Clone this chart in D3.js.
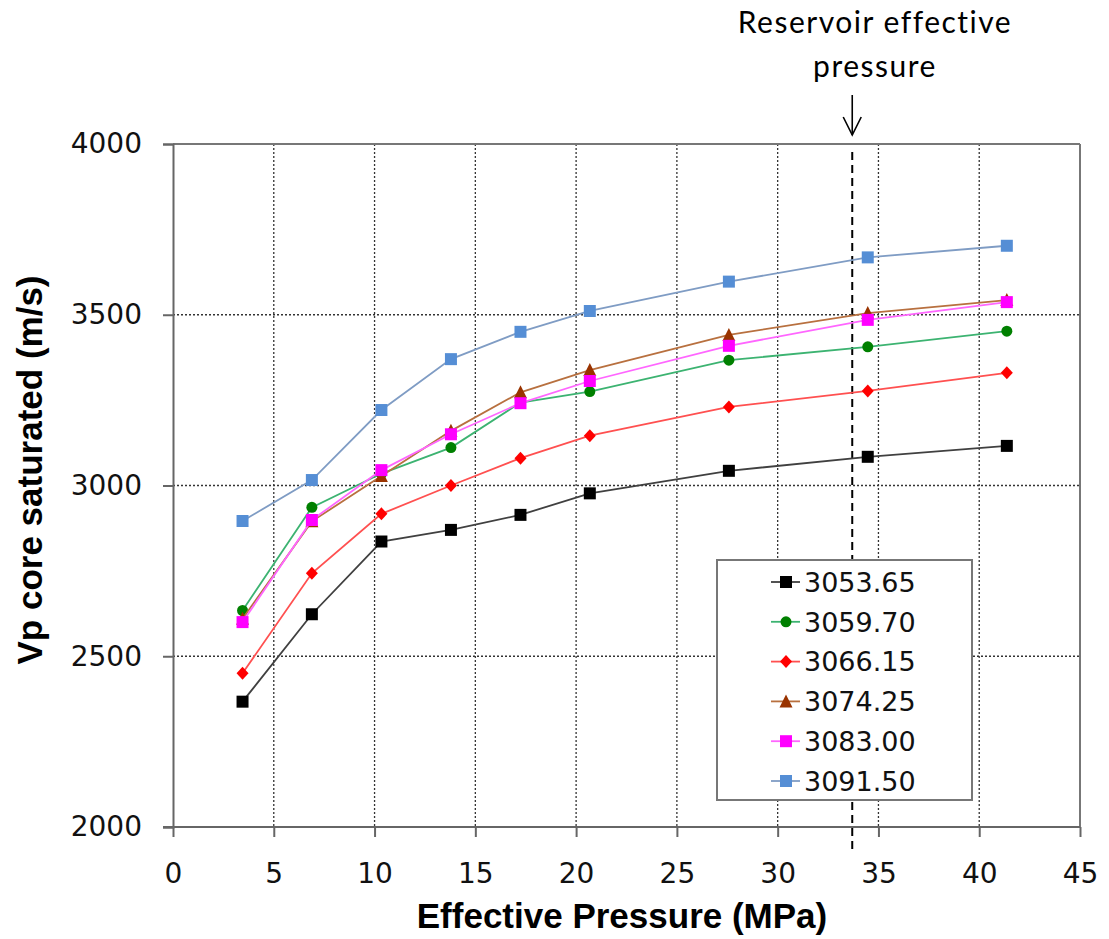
<!DOCTYPE html>
<html><head><meta charset="utf-8">
<script src="https://cdn.jsdelivr.net/npm/d3@7"></script>
<style>body{margin:0;background:#fff}</style>
</head><body>
<svg id="chart" width="1109" height="939"></svg>
<script>
const pressures = [3.45, 6.89, 10.34, 13.79, 17.24, 20.68, 27.58, 34.47, 41.37];
const s3053_65 = [2367, 2623, 2836, 2870, 2914, 2977, 3043, 3084, 3116];
const s3059_70 = [2634, 2936, 3035, 3111, 3243, 3275, 3367, 3406, 3452];
const s3066_15 = [2450, 2743, 2917, 3000, 3080, 3146, 3230, 3277, 3330];
const s3074_25 = [2610, 2895, 3028, 3160, 3273, 3338, 3441, 3505, 3543];
const s3083_00 = [2600, 2899, 3045, 3150, 3241, 3306, 3409, 3485, 3537];
const s3091_50 = [2896, 3016, 3221, 3370, 3450, 3511, 3597, 3668, 3702];
const seriesNames = ["3053.65", "3059.70", "3066.15", "3074.25", "3083.00", "3091.50"];
const seriesValues = [s3053_65, s3059_70, s3066_15, s3074_25, s3083_00, s3091_50];
const xTicks = [0, 5, 10, 15, 20, 25, 30, 35, 40, 45];
const yTicks = [2000, 2500, 3000, 3500, 4000];
const reservoirPressure = 33.7;

const styles = [
  {marker:"#000000", line:"#404040", shape:"square", size:12},
  {marker:"#008000", line:"#3cb371", shape:"circle", size:11},
  {marker:"#ff0000", line:"#ff5050", shape:"diamond", size:12},
  {marker:"#993300", line:"#b8703f", shape:"triangle", size:12},
  {marker:"#ff00ff", line:"#ff66ff", shape:"square", size:12},
  {marker:"#558ed5", line:"#7f9cc4", shape:"square", size:12}
];

const L = 173, R = 1080, T = 144, B = 827;
const svg = d3.select("#chart");
const x = d3.scaleLinear().domain([0, 45]).range([L, R]);
const y = d3.scaleLinear().domain([2000, 4000]).range([B, T]);

// grid
const grid = svg.append("g");
grid.selectAll("line.vg").data(xTicks.filter(d => d > 0 && d < 45)).enter().append("line")
  .attr("x1", d => x(d)).attr("x2", d => x(d)).attr("y1", T).attr("y2", B)
  .attr("stroke", "#333").attr("stroke-width", 1.3).attr("stroke-dasharray", "2,2");
grid.selectAll("line.hg").data(yTicks.filter(d => d > 2000 && d < 4000)).enter().append("line")
  .attr("x1", L).attr("x2", R).attr("y1", d => y(d)).attr("y2", d => y(d))
  .attr("stroke", "#333").attr("stroke-width", 1.3).attr("stroke-dasharray", "2,2");

// border top/right
svg.append("line").attr("x1", L).attr("x2", R).attr("y1", T).attr("y2", T).attr("stroke", "#777").attr("stroke-width", 2);
svg.append("line").attr("x1", R).attr("x2", R).attr("y1", T).attr("y2", B).attr("stroke", "#777").attr("stroke-width", 2);

// axes
const xAxis = svg.append("g").attr("transform", `translate(0,${B})`)
  .call(d3.axisBottom(x).tickValues(xTicks).tickSize(10).tickPadding(26).tickFormat(d3.format("d")));
const yAxis = svg.append("g").attr("transform", `translate(${L},0)`)
  .call(d3.axisLeft(y).tickValues(yTicks).tickSize(10).tickPadding(21).tickFormat(d3.format("d")));
[xAxis, yAxis].forEach(a => {
  a.select(".domain").attr("stroke", "#666").attr("stroke-width", 2);
  a.selectAll(".tick line").attr("stroke", "#666").attr("stroke-width", 2);
  a.selectAll(".tick text").attr("font-family", "'DejaVu Sans', Verdana, sans-serif")
    .attr("font-size", 28).attr("fill", "#111");
});
xAxis.select(".domain").attr("d", `M${L - 10},0H${R}`);

// reservoir line
svg.append("line").attr("x1", x(reservoirPressure)).attr("x2", x(reservoirPressure))
  .attr("y1", T + 8).attr("y2", B + 25)
  .attr("stroke", "#000").attr("stroke-width", 2).attr("stroke-dasharray", "8,5");

// series
const line = d3.line().x((d, i) => x(pressures[i])).y(d => y(d));
function symbolPath(st) {
  const s = st.size, h = s / 2;
  if (st.shape === "square") return `M${-h},${-h}h${s}v${s}h${-s}Z`;
  if (st.shape === "circle") return d3.symbol().type(d3.symbolCircle).size(Math.PI * s * s / 4)();
  if (st.shape === "diamond") return `M0,${-h - 0.5}L${h},0L0,${h + 0.5}L${-h},0Z`;
  return `M0,${-h - 1}L${h + 0.5},${h}L${-h - 0.5},${h}Z`;
}
seriesValues.forEach((vals, k) => {
  const st = styles[k];
  const g = svg.append("g");
  g.append("path").attr("d", line(vals)).attr("fill", "none").attr("stroke", st.line).attr("stroke-width", 1.8);
  g.selectAll("path.m").data(vals).enter().append("path")
    .attr("d", symbolPath(st))
    .attr("transform", (d, i) => `translate(${x(pressures[i])},${y(d)})`)
    .attr("fill", st.marker);
});

// legend
const lg = svg.append("g");
lg.append("rect").attr("x", 717).attr("y", 560).attr("width", 255).attr("height", 240)
  .attr("fill", "#fff").attr("stroke", "#777").attr("stroke-width", 2);
seriesNames.forEach((name, k) => {
  const st = styles[k];
  const cy = 582 + k * 39.8;
  lg.append("line").attr("x1", 771).attr("x2", 800).attr("y1", cy).attr("y2", cy).attr("stroke", st.line).attr("stroke-width", 1.8);
  lg.append("path").attr("d", symbolPath(st)).attr("transform", `translate(786,${cy})`).attr("fill", st.marker);
  lg.append("text").attr("x", 804).attr("y", cy).attr("dy", "0.36em")
    .attr("font-family", "'DejaVu Sans', Verdana, sans-serif").attr("font-size", 27).attr("fill", "#111").text(name);
});

// axis titles
svg.append("text").attr("x", 622).attr("y", 928).attr("text-anchor", "middle")
  .attr("font-family", "'Liberation Sans', Arial, sans-serif").attr("font-weight", "bold").attr("font-size", 35)
  .attr("fill", "#000").text("Effective Pressure (MPa)");
svg.append("text").attr("transform", "translate(42,470) rotate(-90)").attr("text-anchor", "middle")
  .attr("font-family", "'Liberation Sans', Arial, sans-serif").attr("font-weight", "bold").attr("font-size", 35)
  .attr("fill", "#000").text("Vp core saturated (m/s)");

// annotation
const ax = x(reservoirPressure);
svg.append("text").attr("x", 875).attr("y", 33).attr("text-anchor", "middle")
  .attr("font-family", "Lato, 'Open Sans', sans-serif").attr("font-size", 30).attr("letter-spacing", 1.5)
  .attr("fill", "#000").text("Reservoir effective");
svg.append("text").attr("x", 875).attr("y", 77).attr("text-anchor", "middle")
  .attr("font-family", "Lato, 'Open Sans', sans-serif").attr("font-size", 30).attr("letter-spacing", 1.5)
  .attr("fill", "#000").text("pressure");
svg.append("line").attr("x1", ax).attr("x2", ax).attr("y1", 95).attr("y2", 135).attr("stroke", "#000").attr("stroke-width", 1.6);
svg.append("path").attr("d", `M${ax - 9},117L${ax},135L${ax + 9},117`).attr("fill", "none").attr("stroke", "#000").attr("stroke-width", 1.6);
</script>
</body></html>
